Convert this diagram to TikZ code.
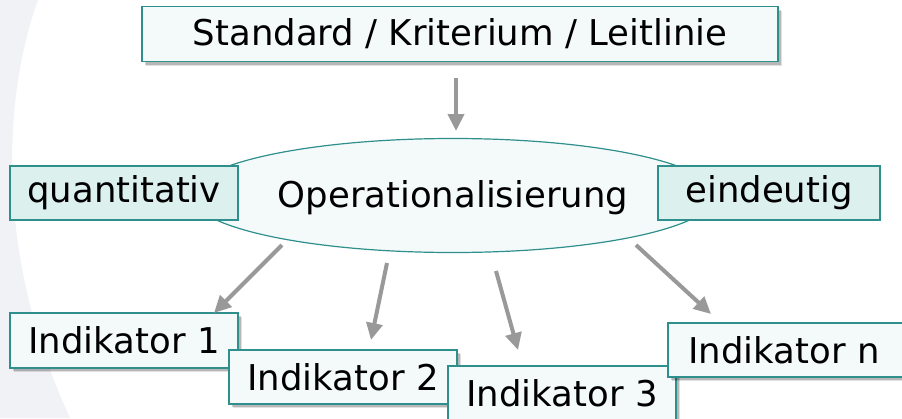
\documentclass[tikz,border=0pt]{standalone}
\usepackage{fontspec}
\setmainfont{DejaVu Sans}
\usetikzlibrary{arrows.meta,shadows,shapes.geometric}
\definecolor{tealline}{HTML}{2E8F8C}
\definecolor{boxfill}{HTML}{F4FAFA}
\definecolor{tagfill}{HTML}{DCF0EE}
\definecolor{arrowgray}{HTML}{999999}
\definecolor{bggray}{HTML}{F0F2F5}
\tikzset{
  base/.style={draw=tealline, line width=1.2pt, inner sep=0pt, font=\fontsize{35.5}{40}\selectfont},
  plainbox/.style={base, rectangle, fill=boxfill,
    drop shadow={shadow xshift=4pt, shadow yshift=-4pt, fill=black, opacity=0.12},
    drop shadow={shadow xshift=3pt, shadow yshift=-3pt, fill=black, opacity=0.18}},
  tagbox/.style={base, rectangle, fill=tagfill},
  opell/.style={base, ellipse, fill=boxfill},
  flow/.style={draw=arrowgray, line width=4pt, -{Triangle[length=17pt,width=16pt]}}
}
\begin{document}
\begin{tikzpicture}[x=1pt,y=-1pt]
\useasboundingbox (0,0) rectangle (902,418);
\fill[white] (0,0) rectangle (902,418);
\fill[bggray] (0,0) -- (38,0) .. controls (5,90) and (-8,250) .. (70,418) -- (0,418) -- cycle;

\node[plainbox, minimum width=636pt, minimum height=55pt] (std) at (460,34) {Standard / Kriterium / Leitlinie};

\node[opell, minimum width=524pt, minimum height=114pt] (op) at (453,195.5) {};
\node[font=\fontsize{35.5}{40}\selectfont, inner sep=0pt] (optext) at (453,198) {Operationalisierung};

\node[tagbox, minimum width=228pt, minimum height=54pt] (quant) at (124,193) {quantitativ};
\node[tagbox, minimum width=222pt, minimum height=54pt] (eind) at (769,193) {eindeutig};

\node[plainbox, minimum width=228pt, minimum height=55pt] (ind1) at (124,340.5) {Indikator 1};
\node[plainbox, minimum width=228pt, minimum height=54pt] (ind2) at (343,377) {Indikator 2};
\node[plainbox, minimum width=228pt, minimum height=54pt] (ind3) at (562,393) {Indikator 3};
\node[plainbox, minimum width=240pt, minimum height=54pt] (indn) at (788,350) {\hspace*{-8pt}Indikator n};

\coordinate (s0) at (456,78);
\coordinate (e0) at (456,131);
\coordinate (s1) at (282,245);
\coordinate (e1) at (214,313);
\coordinate (s2) at (387,263);
\coordinate (e2) at (371,340);
\coordinate (s3) at (496,271);
\coordinate (e3) at (518,350);
\coordinate (s4) at (636,245);
\coordinate (e4) at (711,314);

\draw[flow] (s0) -- (e0);
\draw[flow] (s1) -- (e1);
\draw[flow] (s2) -- (e2);
\draw[flow] (s3) -- (e3);
\draw[flow] (s4) -- (e4);
\end{tikzpicture}
\end{document}
